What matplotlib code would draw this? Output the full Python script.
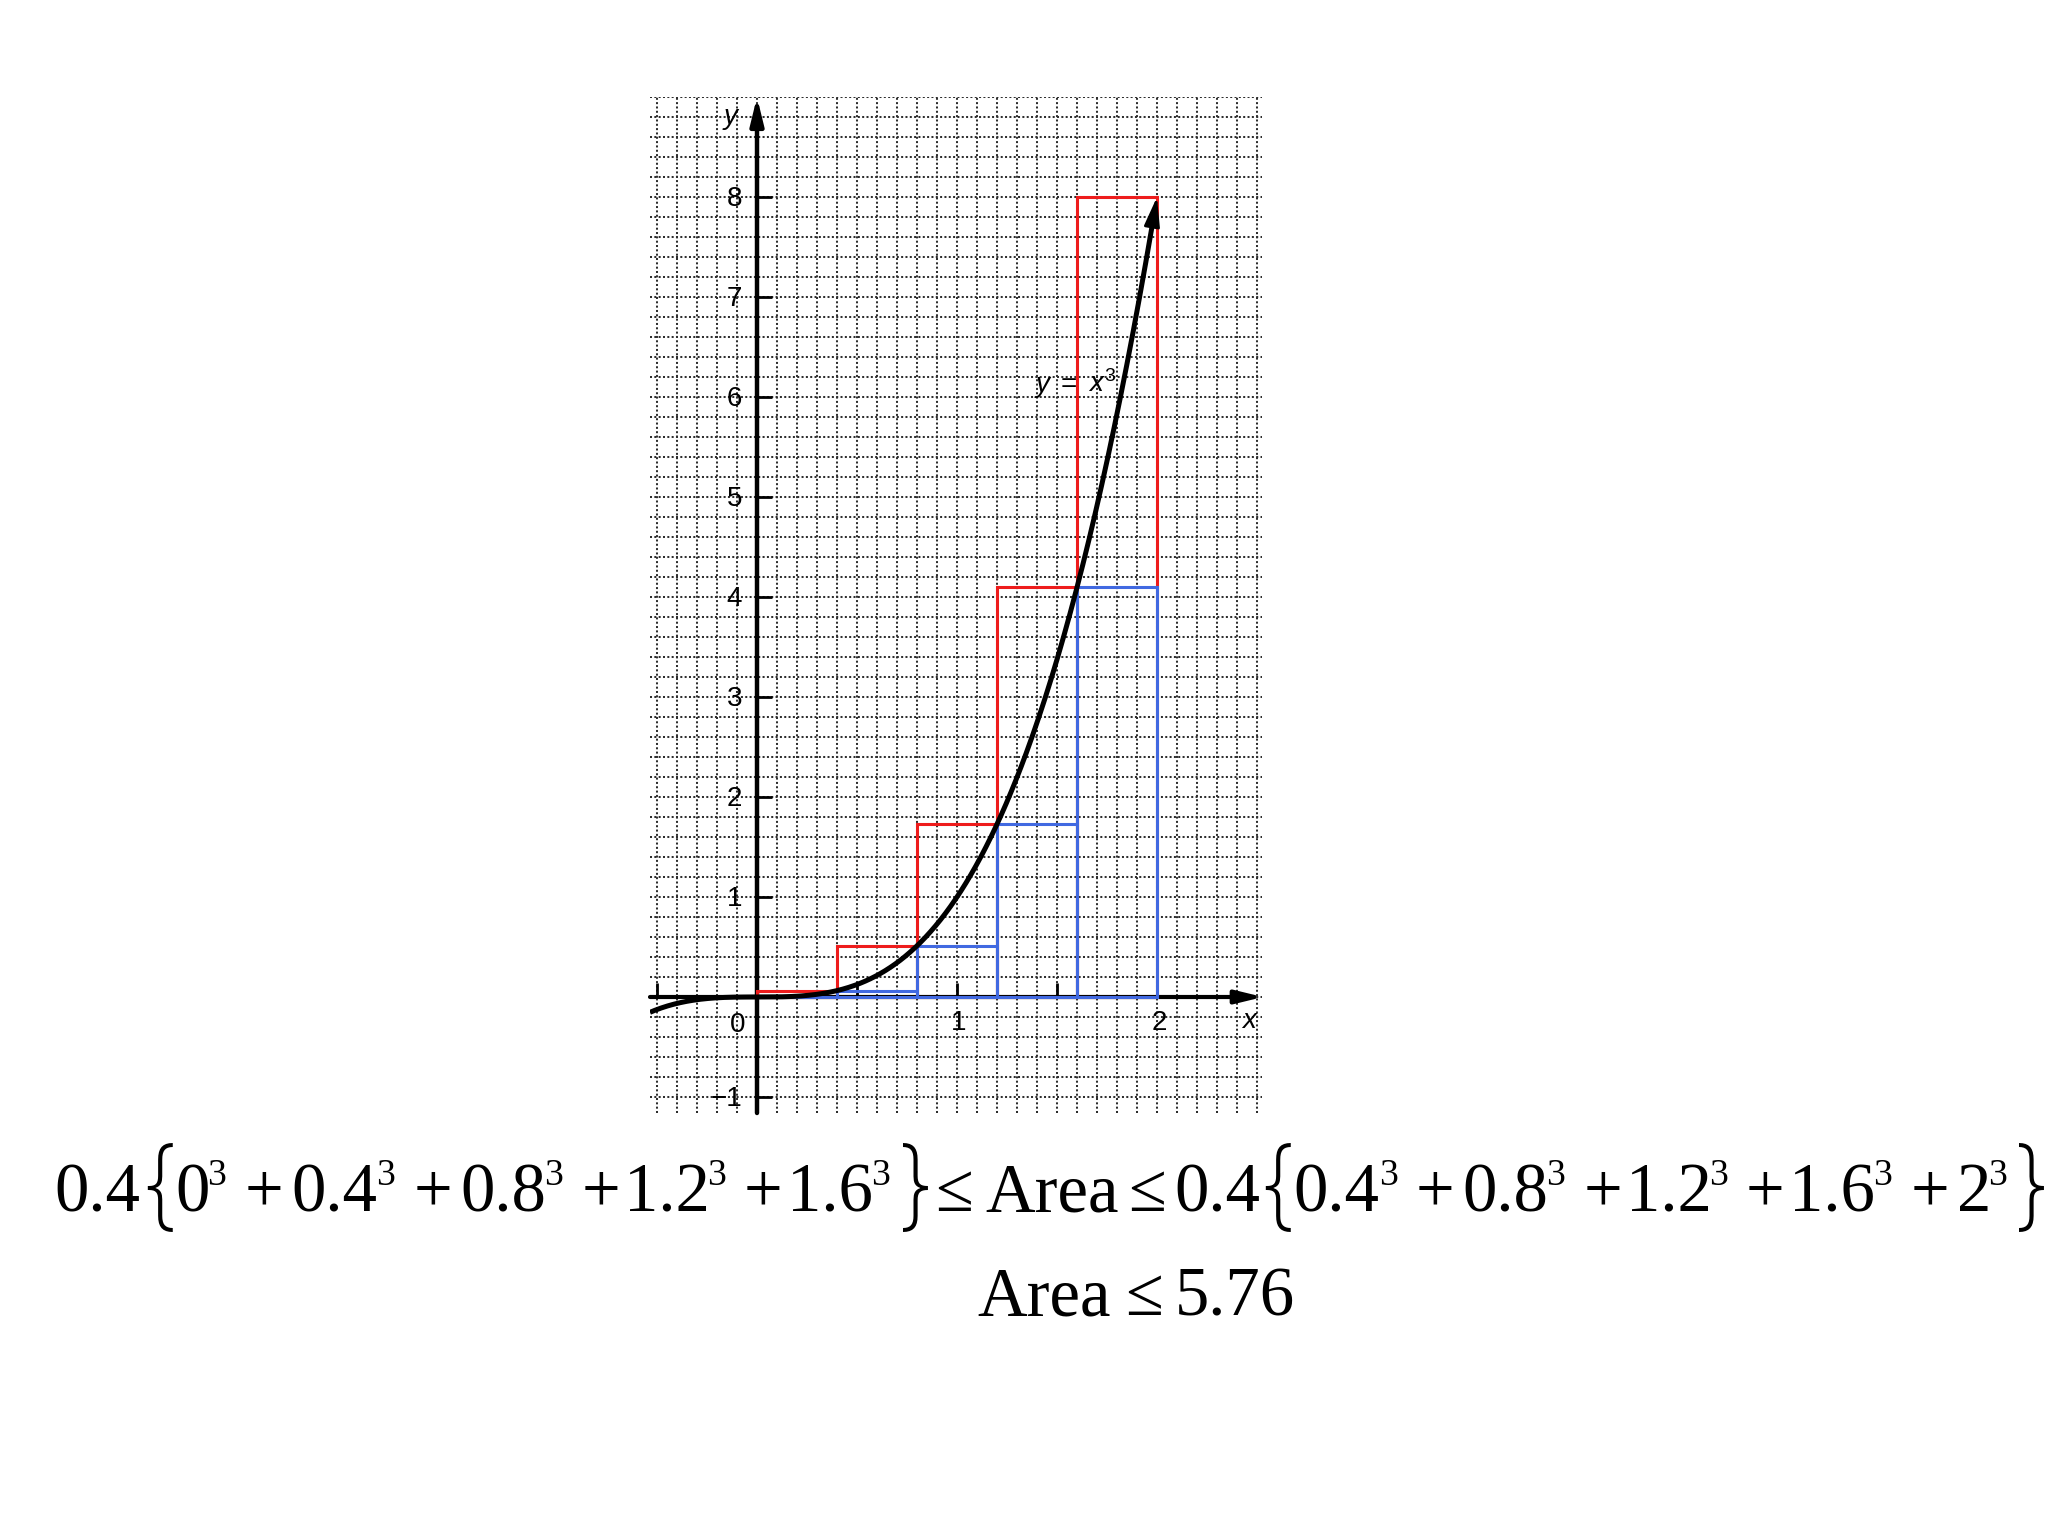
import numpy as np
import matplotlib
matplotlib.use("Agg")
import matplotlib.pyplot as plt
from matplotlib import font_manager
from matplotlib.font_manager import FontProperties
from matplotlib.textpath import TextPath
from matplotlib.transforms import IdentityTransform

# ---------------- data ----------------
step_width = 0.4
left_edges = [0.0, 0.4, 0.8, 1.2, 1.6]
upper_heights = [0.064, 0.512, 1.728, 4.096, 8.0]   # red (upper sum)
lower_heights = [0.0, 0.064, 0.512, 1.728, 4.096]   # blue (lower sum)
curve_power = 3
curve_x_range = [-0.535, 2.0]
y_tick_values = [-1, 1, 2, 3, 4, 5, 6, 7, 8]
y_tick_labels = ["\u22121", "1", "2", "3", "4", "5", "6", "7", "8"]
x_tick_values = [1, 2]
x_tick_labels = ["1", "2"]
x_tick_marks = [-0.5, 0.5, 1.0, 1.5, 2.0]
lower_terms = ["0", "0.4", "0.8", "1.2", "1.6"]
upper_terms = ["0.4", "0.8", "1.2", "1.6", "2"]
width_factor = "0.4"
area_bound = "5.76"

# ---------------- figure ----------------
W, H, DPI = 2048, 1536, 100
plt.rcParams["mathtext.fontset"] = "custom"
plt.rcParams["mathtext.it"] = "Liberation Sans:italic"
plt.rcParams["mathtext.rm"] = "Liberation Sans"
fig = plt.figure(figsize=(W / DPI, H / DPI), dpi=DPI)
fig.patch.set_facecolor("white")

ax = fig.add_axes([650 / W, 1 - 1113 / H, 612 / W, 1016 / H])
X0, X1 = -0.535, 2.525
Y0, Y1 = -1.16, 9.0
ax.set_xlim(X0, X1)
ax.set_ylim(Y0, Y1)
ax.set_axis_off()

# graph paper
gx = np.round(np.arange(-0.5, 2.51, 0.1), 2)
gy = np.round(np.arange(-1.0, 9.01, 0.2), 2)
grid_kw = dict(color="#2e2e2e", linewidth=1.45, linestyle=(0, (1.0, 1.15)), zorder=1)
ax.vlines(gx, Y0, Y1, **grid_kw)
ax.hlines(gy, X0, X1, **grid_kw)

# axes with arrows
ax.annotate("", xy=(X1 + 0.005, 0), xytext=(X0, 0),
            arrowprops=dict(arrowstyle="-|>,head_length=0.45,head_width=0.11",
                            mutation_scale=36, lw=3.0, color="black",
                            shrinkA=0, shrinkB=0),
            annotation_clip=False, zorder=3)
ax.annotate("", xy=(0, Y1), xytext=(0, Y0),
            arrowprops=dict(arrowstyle="-|>,head_length=0.45,head_width=0.11",
                            mutation_scale=36, lw=3.2, color="black",
                            shrinkA=0, shrinkB=0),
            annotation_clip=False, zorder=3)

# ticks
ax.hlines(y_tick_values, 0, 0.075, color="black", lw=2.0, zorder=3)
ax.vlines(x_tick_marks, 0, 0.14, color="black", lw=2.0, zorder=3)

lab_kw = dict(fontsize=20, family="Liberation Sans", color="black", zorder=2)
for v, s in zip(y_tick_values, y_tick_labels):
    ax.text(-0.075, v - 0.02, s, ha="right", va="center", **lab_kw)
for v, s in zip(x_tick_values, x_tick_labels):
    ax.text(v + 0.01, -0.265, s, ha="center", va="center", **lab_kw)
ax.text(-0.098, -0.283, "0", ha="center", va="center", **lab_kw)
ax.text(2.46, -0.235, "x", ha="center", va="center", style="italic", **lab_kw)
ax.text(-0.13, 8.8, "y", ha="center", va="center", style="italic", **lab_kw)

# curve label
ax.text(1.4275, 6.05, "y", ha="center", va="baseline", style="italic", **lab_kw)
ax.text(1.5575, 6.05, "=", ha="center", va="baseline", **lab_kw)
ax.text(1.7275, 6.05, r"$x^{%d}$" % curve_power, ha="center", va="baseline", **lab_kw)

# rectangles
ax.bar(left_edges, upper_heights, width=step_width, align="edge", fill=False,
       edgecolor="#ee1c1c", linewidth=2.2, zorder=4)
ax.bar(left_edges, lower_heights, width=step_width, align="edge", fill=False,
       edgecolor="#4169e1", linewidth=2.2, zorder=5)

# curve y = x^3
cx = np.linspace(curve_x_range[0], curve_x_range[1] - 0.025, 400)
cy = cx ** curve_power
ax.plot(cx, cy, color="black", lw=3.6, solid_capstyle="butt", zorder=6)
xe = curve_x_range[1]
ax.annotate("", xy=(xe, xe ** curve_power), xytext=(cx[-1], cy[-1]),
            arrowprops=dict(arrowstyle="-|>,head_length=0.45,head_width=0.12",
                            mutation_scale=40, lw=2.0, color="black",
                            shrinkA=0, shrinkB=0),
            annotation_clip=False, zorder=7)

# ---------------- equations (laid out piece by piece, by ink extents) ----------------
exp = str(curve_power)
LE = "\u2264"
PX = DPI / 72.0
WEIGHTS = {"thin": 100, "extralight": 200, "ultralight": 200, "light": 300,
           "normal": 400, "regular": 400, "book": 400}


def pick_light_font():
    prefs = ["Roboto", "Lato", "Open Sans", "Inter", "Noto Sans", "DejaVu Sans"]
    best = None
    for f in font_manager.fontManager.ttflist:
        if f.name not in prefs or f.style != "normal":
            continue
        w = f.weight
        if not isinstance(w, (int, float)):
            w = WEIGHTS.get(str(w).lower(), 400)
        if 100 <= w <= 300:
            score = (abs(w - 200), prefs.index(f.name))
            if best is None or score < best[0]:
                best = (score, f.fname)
    return best[1] if best else None


light_path = pick_light_font()


def serif_props(size):
    return FontProperties(family="Liberation Serif", size=size)


def brace_props(size):
    if light_path:
        return FontProperties(fname=light_path, size=size)
    return FontProperties(family="Liberation Sans", size=size)


def ink(s, prop):
    """ink bbox of a string in pixels, relative to pen origin / baseline"""
    e = TextPath((0, 0), s, prop=prop).get_extents()
    return e.x0 * PX, e.x1 * PX, e.y0 * PX, e.y1 * PX


BRACE_H = 89.0          # brace ink height (px)
BRACE_C = 23.5          # brace ink centre above the baseline (px)
_, _, by0, by1 = ink("{", brace_props(100))
brace_size = 100 * BRACE_H / (by1 - by0)


def props_for(kind, F):
    if kind == "n":
        return serif_props(F)
    if kind == "s":
        return serif_props(0.55 * F)
    return brace_props(brace_size)


def sum_tokens(terms):
    toks = []
    for i, t in enumerate(terms):
        if i > 0:
            toks.append(("n", "+", 0.32))
            toks.append(("n", t, 0.19))
        else:
            toks.append(("n", t, 0.09))
        toks.append(("s", exp, 0.03))
    return toks


line1_tokens = ([("n", width_factor, 0.0), ("b", "{", 0.10)]
                + sum_tokens(lower_terms)
                + [("b", "}", 0.19), ("n", LE, 0.14), ("n", "Area", 0.22),
                   ("n", LE, 0.19), ("n", width_factor, 0.19), ("b", "{", 0.07)]
                + sum_tokens(upper_terms)
                + [("b", "}", 0.19)])
line2_tokens = [("n", "Area", 0.0), ("n", LE, 0.19), ("n", area_bound, 0.19)]


def build(tokens, x_start, baseline, F, target):
    em = F * PX
    metrics = [ink(s, props_for(kind, F)) for kind, s, _ in tokens]
    widths = np.array([m[1] - m[0] for m in metrics])
    gaps = np.array([g * em for _, _, g in tokens])
    k = (target - widths.sum()) / gaps.sum()
    gaps = gaps * k
    x = x_start
    for (kind, s, _), m, w, g in zip(tokens, metrics, widths, gaps):
        x += g
        ax_x = x - m[0]
        if kind == "n":
            y = baseline
        elif kind == "s":
            y = baseline + 0.38 * em
        else:
            y = baseline + BRACE_C - (m[2] + m[3]) / 2.0
        fig.text(ax_x, y, s, fontproperties=props_for(kind, F), color="black",
                 transform=IdentityTransform(), ha="left", va="baseline")
        x += w


F = 49.5
build(line1_tokens, 57, H - 1211, F, target=2044 - 57)
build(line2_tokens, 978, H - 1315, F, target=1293 - 978)

fig.savefig("out.png", dpi=DPI, facecolor="white")
